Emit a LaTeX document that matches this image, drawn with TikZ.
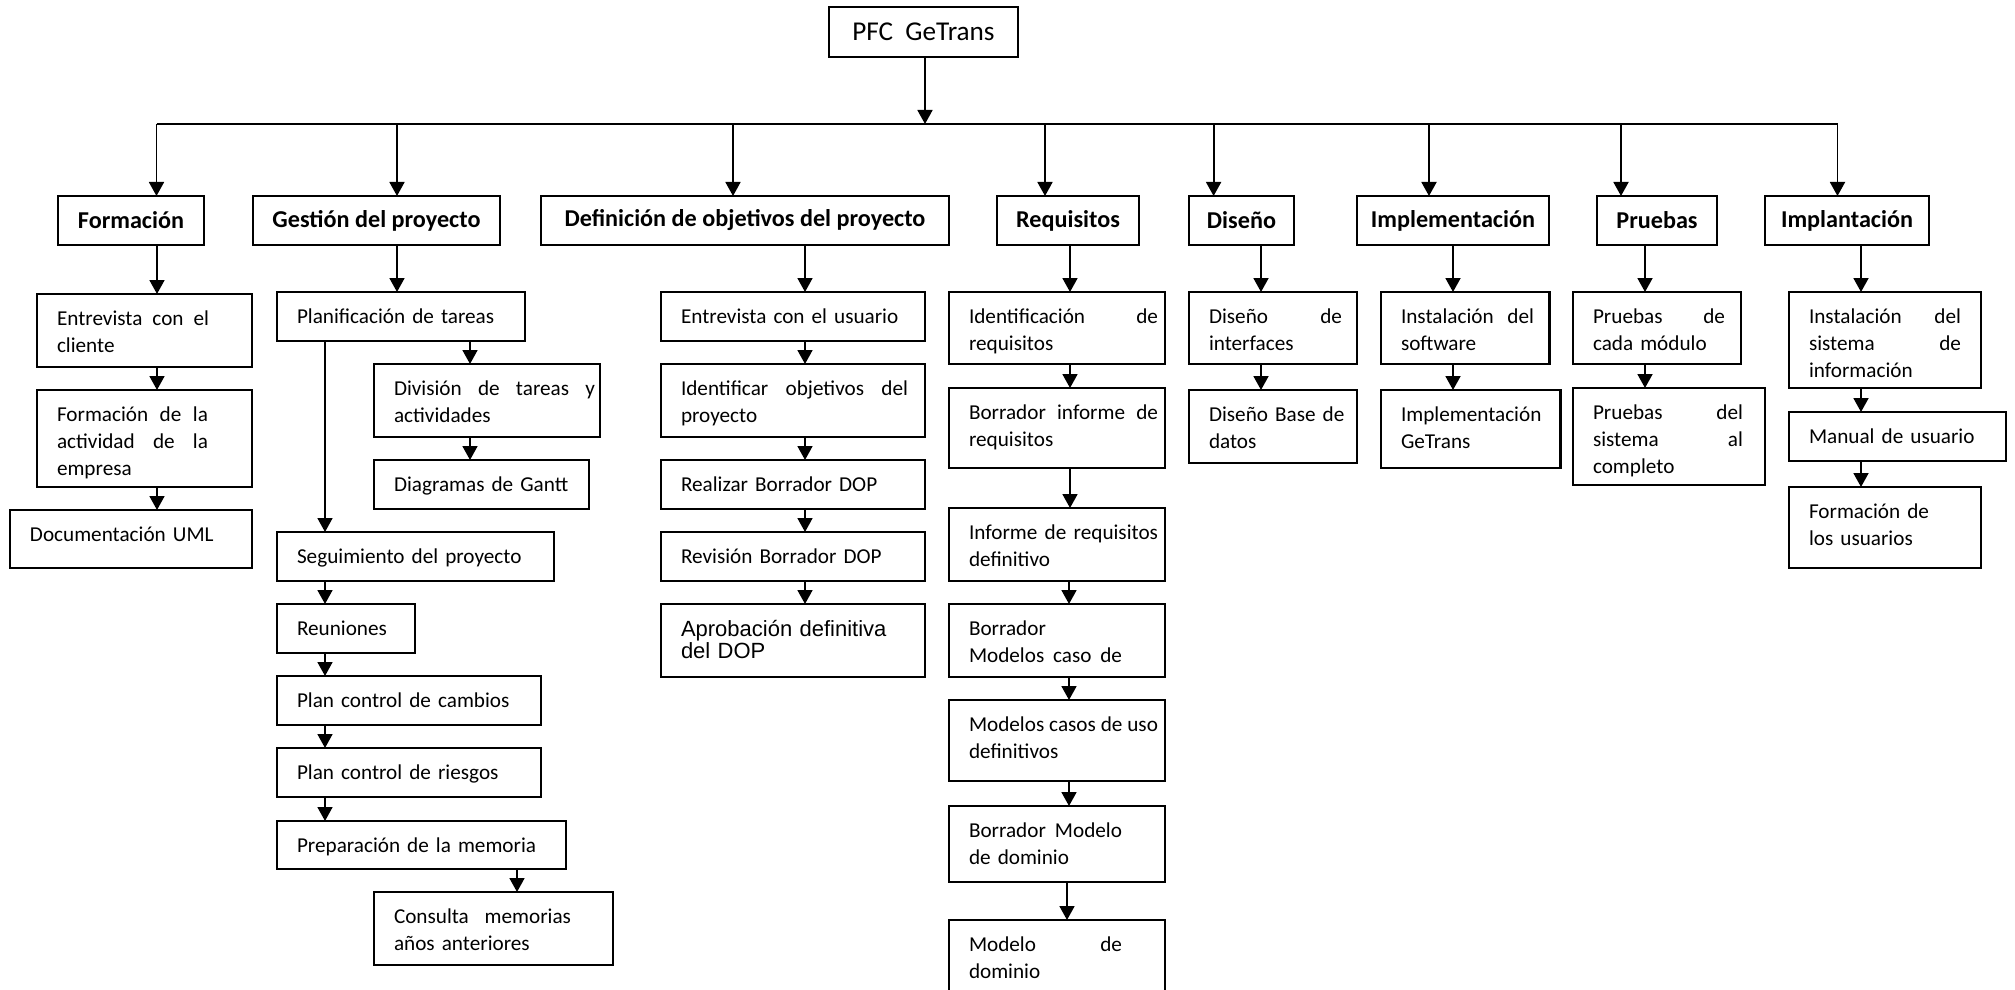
\documentclass[tikz,border=0pt]{standalone}
\usepackage{fontspec}
\setmainfont{Carlito}
\newfontfamily\arialfont{Liberation Sans}
\usetikzlibrary{arrows.meta}
\newcommand{\js}[2]{{\spaceskip=0pt\xspaceskip=0pt\makebox[#1][s]{#2}}}
\tikzset{%
  downarrow/.style = {-{Triangle[length=7pt,width=7.5pt]},line width=0.9pt},
  rt/.style = {rectangle,draw,line width=1.1pt,outer sep=0pt,anchor=north west,
        inner sep=0pt,font=\fontsize{13.6}{16}\selectfont},
  hd/.style = {rectangle,draw,line width=1.1pt,outer sep=0pt,anchor=north west,
        inner sep=0pt,minimum height=24.5pt,
        font=\bfseries\fontsize{12.1}{14}\selectfont},
  bx/.style = {rectangle,draw,line width=1.1pt,outer sep=0pt,anchor=north west,
        inner sep=0pt,align=left,text height=15.5pt,
        font=\fontsize{10.6}{13.5}\selectfont,
        execute at begin node={\leftskip=10pt}},
  sz/.style 2 args = {text width=#1,text depth=#2-15.5pt}
}

\begin{document}
\begin{tikzpicture}[x=0.5pt,y=-0.5pt]
\useasboundingbox (0,0) rectangle (2015,990);
\clip (0,0) rectangle (2015,990);

\node[rt,minimum width=94.5pt,minimum height=25pt] (root) at (829,7) {PFC\ \ GeTrans};

% fases
\node[hd,minimum width=73pt]    (form) at (58,196)   {Formación};
\node[hd,minimum width=123.5pt] (gest) at (253,196)  {Gestión del proyecto};
\node[hd,minimum width=204pt]   (defi) at (541,196)  {Definición de objetivos del proyecto};
\node[hd,minimum width=71pt]    (requ) at (997,196)  {Requisitos};
\node[hd,minimum width=52.5pt]  (dise) at (1189,196) {Diseño};
\node[hd,minimum width=96pt]    (impl) at (1357,196) {Implementación};
\node[hd,minimum width=60pt]    (prue) at (1597,196) {Pruebas};
\node[hd,minimum width=82pt]    (impt) at (1765,196) {Implantación};

% Formacion
\node[bx,sz={107.5pt}{36.5pt}] (entcli) at (37,294) {\js{76pt}{Entrevista con el}\\cliente};
\node[bx,sz={107.5pt}{48.5pt}] (formact) at (37,390) {\js{75.5pt}{Formación de la}\\\js{75.5pt}{actividad de la}\\empresa};
\node[bx,sz={121pt}{29pt}] (documl) at (10,510) {Documentación UML};

% Gestion
\node[bx,sz={124pt}{24.5pt}] (plan) at (277,292) {Planificación de tareas};
\node[bx,sz={113pt}{36.5pt}] (divis) at (374,364) {\js{100.5pt}{División de tareas y}\\actividades};
\node[bx,sz={107.5pt}{24.5pt}] (gantt) at (374,460) {Diagramas de Gantt};
\node[bx,sz={138.5pt}{24.5pt}] (segu) at (277,532) {Seguimiento del proyecto};
\node[bx,sz={69pt}{24.5pt}] (reun) at (277,604) {Reuniones};
\node[bx,sz={132pt}{24.5pt}] (cambios) at (277,676) {Plan control de cambios};
\node[bx,sz={132pt}{24.5pt}] (riesgos) at (277,748) {Plan control de riesgos};
\node[bx,sz={144.5pt}{24pt},line width=1.4pt] (memo) at (277,821) {Preparación de la memoria};
\node[bx,sz={119.5pt}{36.5pt}] (consulta) at (374,892) {\js{88.5pt}{Consulta memorias}\\años anteriores};

% Definicion
\node[bx,sz={132pt}{24.5pt}] (entusu) at (661,292) {Entrevista con el usuario};
\node[bx,sz={132pt}{36.5pt}] (idobj) at (661,364) {\js{113.5pt}{Identificar objetivos del}\\proyecto};
\node[bx,sz={132pt}{24.5pt}] (realiz) at (661,460) {Realizar Borrador DOP};
\node[bx,sz={132pt}{24.5pt}] (revis) at (661,532) {Revisión Borrador DOP};
\node[bx,sz={132pt}{36.5pt},text height=16.3pt,text depth=20.2pt,
      font=\arialfont\fontsize{11}{10.9}\selectfont] (aprob) at (661,604) {Aprobación definitiva\\del DOP};

% Requisitos
\node[bx,sz={108pt}{36pt}] (idreq) at (949,292) {\js{94.5pt}{Identificación de}\\requisitos};
\node[bx,sz={108pt}{40pt}] (borinf) at (949,388) {\js{94.5pt}{Borrador informe de}\\requisitos};
\node[bx,sz={108pt}{36.5pt}] (infdef) at (949,508) {\js{94.5pt}{Informe de requisitos}\\definitivo};
\node[bx,sz={108pt}{36.5pt}] (bormc) at (949,604) {Borrador\\\js{76.5pt}{Modelos caso de}};
\node[bx,sz={108pt}{40.5pt}] (modcu) at (949,700) {\js{94.5pt}{Modelos casos de uso}\\definitivos};
\node[bx,sz={108pt}{38pt}] (bormd) at (949,806) {\js{76.5pt}{Borrador Modelo}\\de dominio};
\node[bx,sz={108pt}{45pt}] (moddom) at (949,920) {\js{76.5pt}{Modelo de}\\dominio};

% Diseno, Implementacion, Pruebas, Implantacion
\node[bx,sz={84pt}{36pt}] (disint) at (1189,292) {\js{66.5pt}{Diseño de}\\interfaces};
\node[bx,sz={84pt}{36.5pt}] (disbd) at (1189,390) {Diseño Base de\\datos};
\node[bx,sz={84.25pt}{36pt}] (instsw) at (1381,292) {\js{66.5pt}{Instalación del}\\software};
\node[bx,sz={89.75pt}{39pt}] (impgt) at (1381,390) {Implementación\\GeTrans};
\node[bx,sz={84pt}{36pt}] (prcm) at (1573,292) {\js{66pt}{Pruebas de}\\cada módulo};
\node[bx,sz={96pt}{48.5pt}] (prsis) at (1573,388) {\js{75pt}{Pruebas del}\\\js{75pt}{sistema al}\\completo};
\node[bx,sz={96pt}{48pt}] (instsi) at (1789,292) {\js{76pt}{Instalación del}\\\js{76pt}{sistema de}\\información};
\node[bx,sz={108.5pt}{24.5pt}] (manual) at (1789,412) {Manual de usuario};
\node[bx,sz={96pt}{40.5pt}] (formus) at (1789,487) {Formación de\\los usuarios};

% barra
\coordinate (bar) at (925,124);
\coordinate (barl) at (156.5,124);
\coordinate (barr) at (1837.5,124);
\draw[downarrow] (root.south -| bar) -- (bar);
\draw[line width=0.9pt] (barl) -- (barr);
\draw[downarrow] (bar -| 156.5,0) -- (form.north -| 156.5,0);
\draw[downarrow] (bar -| 397,0) -- (gest.north -| 397,0);
\draw[downarrow] (bar -| 733,0) -- (defi.north -| 733,0);
\draw[downarrow] (bar -| 1045,0) -- (requ.north -| 1045,0);
\draw[downarrow] (bar -| 1213.6,0) -- (dise.north -| 1213.6,0);
\draw[downarrow] (bar -| 1429,0) -- (impl.north -| 1429,0);
\draw[downarrow] (bar -| 1621,0) -- (prue.north -| 1621,0);
\draw[downarrow] (bar -| 1837.5,0) -- (impt.north -| 1837.5,0);

\draw[downarrow] (form.south -| 157,0) -- (entcli.north -| 157,0);
\draw[downarrow] (entcli.south -| 157,0) -- (formact.north -| 157,0);
\draw[downarrow] (formact.south -| 157,0) -- (documl.north -| 157,0);

\draw[downarrow] (gest.south -| 397,0) -- (plan.north -| 397,0);
\draw[downarrow] (plan.south -| 470,0) -- (divis.north -| 470,0);
\draw[downarrow] (divis.south -| 470,0) -- (gantt.north -| 470,0);
\draw[downarrow] (plan.south -| 325,0) -- (segu.north -| 325,0);
\draw[downarrow] (segu.south -| 325,0) -- (reun.north -| 325,0);
\draw[downarrow] (reun.south -| 325,0) -- (cambios.north -| 325,0);
\draw[downarrow] (cambios.south -| 325,0) -- (riesgos.north -| 325,0);
\draw[downarrow] (riesgos.south -| 325,0) -- (memo.north -| 325,0);
\draw[downarrow] (memo.south -| 517,0) -- (consulta.north -| 517,0);

\draw[downarrow] (defi.south -| 805,0) -- (entusu.north -| 805,0);
\draw[downarrow] (entusu.south -| 805,0) -- (idobj.north -| 805,0);
\draw[downarrow] (idobj.south -| 805,0) -- (realiz.north -| 805,0);
\draw[downarrow] (realiz.south -| 805,0) -- (revis.north -| 805,0);
\draw[downarrow] (revis.south -| 805,0) -- (aprob.north -| 805,0);

\draw[downarrow] (requ.south -| 1070,0) -- (idreq.north -| 1070,0);
\draw[downarrow] (idreq.south -| 1070,0) -- (borinf.north -| 1070,0);
\draw[downarrow] (borinf.south -| 1070,0) -- (infdef.north -| 1070,0);
\draw[downarrow] (infdef.south -| 1069,0) -- (bormc.north -| 1069,0);
\draw[downarrow] (bormc.south -| 1069,0) -- (modcu.north -| 1069,0);
\draw[downarrow] (modcu.south -| 1069,0) -- (bormd.north -| 1069,0);
\draw[downarrow] (bormd.south -| 1067,0) -- (moddom.north -| 1067,0);

\draw[downarrow] (dise.south -| 1261,0) -- (disint.north -| 1261,0);
\draw[downarrow] (disint.south -| 1261,0) -- (disbd.north -| 1261,0);
\draw[downarrow] (impl.south -| 1453,0) -- (instsw.north -| 1453,0);
\draw[downarrow] (instsw.south -| 1453,0) -- (impgt.north -| 1453,0);
\draw[downarrow] (prue.south -| 1645,0) -- (prcm.north -| 1645,0);
\draw[downarrow] (prcm.south -| 1645,0) -- (prsis.north -| 1645,0);
\draw[downarrow] (impt.south -| 1861,0) -- (instsi.north -| 1861,0);
\draw[downarrow] (instsi.south -| 1861,0) -- (manual.north -| 1861,0);
\draw[downarrow] (manual.south -| 1861,0) -- (formus.north -| 1861,0);
\end{tikzpicture}
\end{document}
